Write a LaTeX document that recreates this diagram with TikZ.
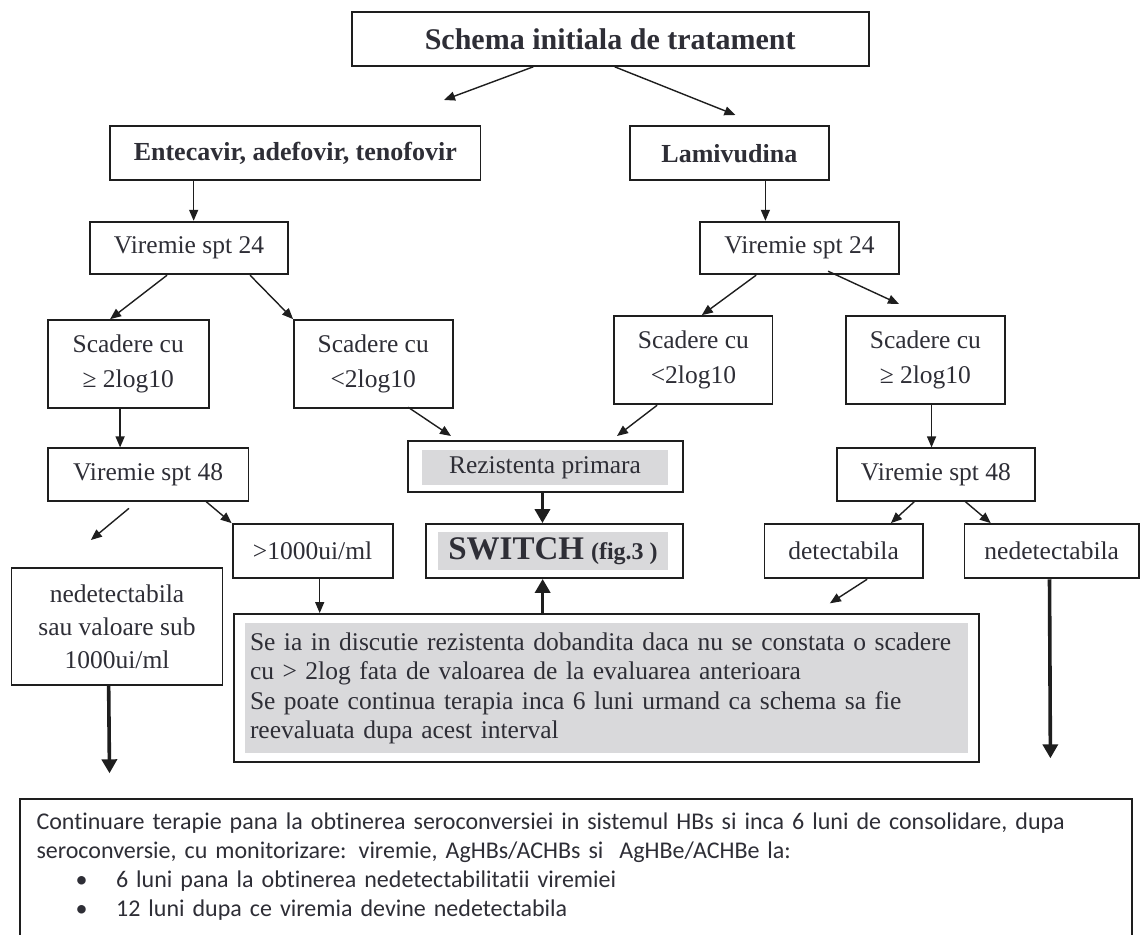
\documentclass[tikz,border=0pt]{standalone}
\usepackage{fontspec}
\setmainfont{Liberation Serif}
\newfontfamily\calib[Ligatures={NoCommon}]{Carlito}
\usetikzlibrary{arrows.meta,calc}
\definecolor{txt}{HTML}{2E2E36}
\definecolor{ln}{HTML}{1E1E1E}
\definecolor{hl}{HTML}{D9D9DB}
\tikzset{
 box/.style={draw=ln, line width=1.8pt, inner sep=0pt, text=txt, align=center, font=\fontsize{25.5}{34}\selectfont},
 hlbox/.style={fill=hl, inner sep=0pt, text=txt},
 arr/.style={draw=ln, line width=1.4pt, -{Triangle[length=11pt,width=9pt]}},
 thickarr/.style={draw=ln, line width=3.6pt, -{Triangle[length=14pt,width=15pt]}},
 hdr/.style={font=\bfseries\fontsize{26}{30}\selectfont},
 two/.style={font=\fontsize{25.5}{35}\selectfont}
}
\begin{document}
\begin{tikzpicture}[x=1pt,y=-1pt]
\clip (0,0) rectangle (1140,934);
\fill[white] (0,0) rectangle (1140,934);
% boxes
\node[box, font=\bfseries\fontsize{30}{36}\selectfont, minimum width=517pt, minimum height=54pt] (schema) at (610.2,38.9) {Schema initiala de tratament};
\node[box, hdr, minimum width=370.5pt, minimum height=54.3pt] (ente) at (295.3,153.2) {Entecavir, adefovir, tenofovir};
\node[box, hdr, minimum width=198.8pt, minimum height=54.3pt] (lami) at (729.4,153.2) {Lamivudina};
\node[box, minimum width=198.5pt, minimum height=52.6pt] (v24L) at (189,248) {Viremie spt 24};
\node[box, minimum width=199pt, minimum height=52.6pt] (v24R) at (799.5,248) {Viremie spt 24};
\node[box, two, minimum width=161pt, minimum height=88.3pt] (scL1) at (128.2,364.2) {Scadere cu\\≥ 2log10};
\node[box, two, minimum width=159pt, minimum height=88.3pt] (scL2) at (373.2,364.2) {Scadere cu\\<2log10};
\node[box, two, minimum width=158.2pt, minimum height=88.3pt] (scR1) at (693.4,360.2) {Scadere cu\\<2log10};
\node[box, two, minimum width=158.7pt, minimum height=88.3pt] (scR2) at (925.4,360.2) {Scadere cu\\≥ 2log10};
\node[box, minimum width=200.8pt, minimum height=52.4pt] (v48L) at (148.1,474.5) {Viremie spt 48};
\node[box, minimum width=197.4pt, minimum height=52.4pt] (v48R) at (935.9,474.5) {Viremie spt 48};
\node[box, minimum width=274.7pt, minimum height=51pt] (rez) at (545.4,466.2) {};
\node[hlbox, font=\fontsize{25.5}{30}\selectfont, minimum width=246.6pt, minimum height=35pt] (reztxt) at (545,467.5) {Rezistenta primara};
\node[box, minimum width=256.7pt, minimum height=54pt] (switch) at (554.4,551) {};
\node[hlbox, minimum width=230pt, minimum height=38.3pt] (swtxt) at (553,550.8) {{\bfseries\fontsize{33}{36}\selectfont SWITCH}\hspace{7pt}{\bfseries\fontsize{24}{26}\selectfont (fig.3 )}};
\node[box, minimum width=160pt, minimum height=53.7pt] (gt1000) at (312.6,550.9) {>1000ui/ml};
\node[box, minimum width=158.1pt, minimum height=54.3pt] (detect) at (843.6,551.2) {detectabila};
\node[box, minimum width=174.6pt, minimum height=54.3pt] (nedR) at (1051.7,551.2) {nedetectabila};
\node[box, font=\fontsize{25.5}{33.4}\selectfont, minimum width=210.9pt, minimum height=116.7pt] (nedL) at (117,626.7) {nedetectabila\\sau valoare sub\\1000ui/ml};
\node[box, minimum width=745.5pt, minimum height=147.7pt] (bigbox) at (606.5,687.8) {};
\node[hlbox, font=\fontsize{25.5}{29.5}\selectfont, align=left, text width=713pt, inner xsep=5pt, minimum width=723pt, minimum height=130pt] (bigtxt) at (606.5,688.3) {Se ia in discutie rezistenta dobandita daca nu se constata o scadere\\cu > 2log fata de valoarea de la evaluarea anterioara\\Se poate continua terapia inca 6 luni urmand ca schema sa fie\\reevaluata dupa acest interval};
\node[box, anchor=north west, minimum width=1112pt, minimum height=160pt] (bottom) at (19,798.3) {};
\node[text=txt, font=\calib\fontsize{24}{29}\selectfont, align=left, text width=1077pt, inner sep=0pt] (bottomtxt) at (575,866.5) {Continuare terapie pana la obtinerea seroconversiei in sistemul HBs si inca 6 luni de consolidare, dupa\\seroconversie, cu monitorizare: viremie, AgHBs/ACHBs si~ AgHBe/ACHBe la:\\\hspace*{39pt}\makebox[40.6pt][l]{\textbullet}6 luni pana la obtinerea nedetectabilitatii viremiei\\\hspace*{39pt}\makebox[40.6pt][l]{\textbullet}12 luni dupa ce viremia devine nedetectabila};
% free end coordinates
\coordinate (e1) at (444,100);
\coordinate (e2) at (735.4,115);
\coordinate (e8) at (899,304);
\coordinate (e10) at (451,436);
\coordinate (e11) at (617,436);
\coordinate (f15a) at (129,508.3);
\coordinate (f15b) at (90.9,540);
\coordinate (e20) at (829.9,603.3);
\coordinate (e21) at (1050.4,758.3);
\coordinate (e22) at (109.5,773.3);
\coordinate (s3) at ($(ente.south west)+(84.5,0)$);
\coordinate (s4) at ($(lami.south west)+(136.3,0)$);
\coordinate (s9) at ($(scL1.south west)+(73.3,0)$);
\coordinate (s12) at ($(scR2.south west)+(86.4,0)$);
\coordinate (s13) at ($(rez.south west)+(135.3,0)$);
\coordinate (s14) at ($(bigbox.north west)+(309.8,0)$);
\coordinate (s17) at ($(gt1000.south west)+(88,0)$);
% connectors
\draw[arr] ($(schema.south west)+(182.5,0)$) -- (e1);
\draw[arr] ($(schema.south west)+(263.9,0)$) -- (e2);
\draw[arr] (s3) -- (s3 |- v24L.north);
\draw[arr] (s4) -- (s4 |- v24R.north);
\draw[arr] ($(v24L.south west)+(78.2,0)$) -- ($(scL1.north west)+(63.3,0)$);
\draw[arr] ($(v24L.south west)+(161.2,0)$) -- ($(scL2.north west)+(0.3,0)$);
\draw[arr] ($(v24R.south west)+(57,0)$) -- ($(scR1.north west)+(88.4,0)$);
\draw[arr] ($(v24R.south west)+(129,-4)$) -- (e8);
\draw[arr] (s9) -- (s9 |- v48L.north);
\draw[arr] ($(scL2.south west)+(115.3,-2)$) -- (e10);
\draw[arr] ($(scR1.south west)+(43.7,0)$) -- (e11);
\draw[arr] (s12) -- (s12 |- v48R.north);
\draw[thickarr] (s13) -- (s13 |- switch.north);
\draw[thickarr] (s14) -- (s14 |- switch.south);
\draw[arr] (f15a) -- (f15b);
\draw[arr] ($(v48L.south west)+(159.3,0)$) -- (gt1000.north west);
\draw[arr] (s17) -- (s17 |- bigbox.north);
\draw[arr] ($(v48R.south west)+(78.1,0)$) -- ($(detect.north west)+(127.2,0)$);
\draw[arr] ($(v48R.south west)+(129,0)$) -- ($(nedR.north west)+(27.3,0)$);
\draw[arr] ($(detect.south west)+(103.5,0)$) -- (e20);
\draw[thickarr] ($(nedR.south west)+(86,0)$) -- (e21);
\draw[thickarr] ($(nedL.south west)+(98,0)$) -- (e22);
\end{tikzpicture}
\end{document}
